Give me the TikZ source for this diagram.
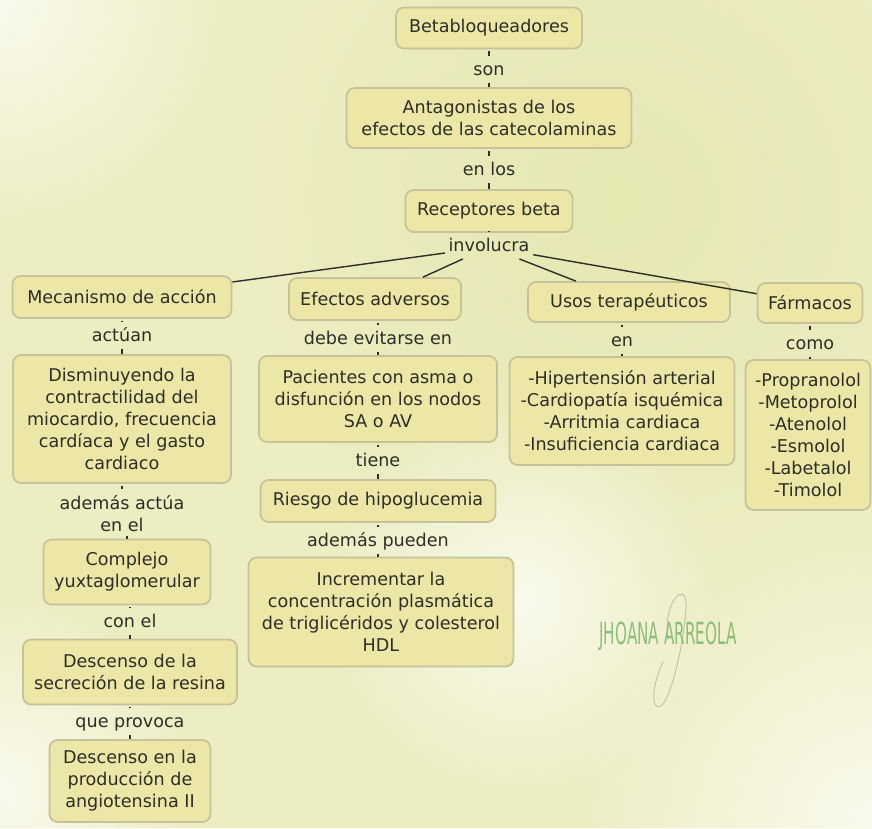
\documentclass[tikz,border=0pt]{standalone}
\usepackage{fontspec}
\setmainfont{DejaVu Sans}
\newfontfamily\signfont[FakeStretch=0.5]{DejaVu Sans}
\usetikzlibrary{positioning}
\usetikzlibrary{fadings}

\definecolor{bgcol}{HTML}{EDEDC2}
\definecolor{bglight}{HTML}{FAFAEE}
\definecolor{bgdeep}{HTML}{E6E8B2}
\definecolor{boxfill}{HTML}{ECE7A6}
\definecolor{boxline}{HTML}{C6C29A}
\definecolor{inkcol}{HTML}{2E2E26}
\definecolor{signcol}{HTML}{8CBE78}
\definecolor{loopcol}{HTML}{BFC4A4}

\tikzfading[name=softspot, inner color=transparent!0, outer color=transparent!100]

\tikzset{
  concept/.style={draw=boxline, line width=1.5pt, fill=boxfill, rounded corners=7pt,
    align=center, text=inkcol, inner sep=2pt, font=\fontsize{15}{18.8}\selectfont},
  wordbase/.style={align=center, text=inkcol, inner xsep=3pt, inner ysep=3pt,
    font=\fontsize{15}{18.8}\selectfont},
  linkword/.style={wordbase, text height=11pt, text depth=3pt},
  linkup/.style={draw=inkcol, line width=1pt, shorten <=1.5pt, shorten >=3pt},
  linkdown/.style={draw=inkcol, line width=1pt},
  branch/.style={draw=inkcol, line width=1.2pt}
}

\begin{document}
\begin{tikzpicture}[x=0.03cm,y=-0.03cm,on grid]
   \useasboundingbox (0,0) rectangle (872,828);
   % fondo
   \fill[bgcol] (0,0) rectangle (872,828);
   \fill[bgdeep, path fading=softspot] (620,200) circle (380);
   \fill[bglight, path fading=softspot] (0,0) circle (230);
   \fill[bglight, path fading=softspot] (872,828) circle (300);
   \fill[bglight, path fading=softspot] (0,790) circle (200);
   \fill[bglight, path fading=softspot] (520,600) circle (200);

   % columna central
   \node[concept, minimum width=5.58cm, minimum height=1.23cm] (beta) at (489,28) {Betabloqueadores};
   \node[linkword] (son) [below=1.29cm of beta] {son};
   \node[concept, minimum width=8.55cm, minimum height=1.8cm] (antag) [below=1.41cm of son]
     {Antagonistas de los\\efectos de las catecolaminas};
   \node[linkword] (enlos) [below=1.59cm of antag] {en los};
   \node[concept, minimum width=5.01cm, minimum height=1.26cm] (recep) [below=1.2cm of enlos] {Receptores beta};
   \node[linkword] (invol) [below=1.08cm of recep] {involucra};

   % cuatro ramas
   \node[concept, minimum width=6.57cm, minimum height=1.26cm] (mecan) [below left=1.5cm and 11.01cm of invol] {Mecanismo de acción};
   \node[concept, minimum width=5.16cm, minimum height=1.26cm] (adver) [below left=1.56cm and 3.42cm of invol] {Efectos adversos};
   \node[concept, minimum width=6.06cm, minimum height=1.2cm] (usos) [below right=1.65cm and 4.2cm of invol] {Usos terapéuticos};
   \node[concept, minimum width=3.15cm, minimum height=1.2cm] (farma) [below right=1.68cm and 9.63cm of invol] {Fármacos};

   % mecanismo de accion
   \node[linkword] (actuan) [below=1.2cm of mecan] {actúan};
   \node[concept, minimum width=6.54cm, minimum height=3.84cm] (dismi) [below=2.46cm of actuan]
     {Disminuyendo la\\contractilidad del\\miocardio, frecuencia\\cardíaca y el gasto\\cardiaco};
   \node[wordbase] (ademas) [below=2.85cm of dismi] {además actúa\\en el};
   \node[concept, minimum width=5.01cm, minimum height=1.95cm] (yuxta) [below right=1.74cm and 0.15cm of ademas]
     {Complejo\\yuxtaglomerular};
   \node[linkword] (conel) [below right=1.53cm and 0.09cm of yuxta] {con el};
   \node[concept, minimum width=6.42cm, minimum height=1.95cm] (resina) [below=1.47cm of conel]
     {Descenso de la\\secreción de la resina};
   \node[linkword] (provoca) [below=1.53cm of resina] {que provoca};
   \node[concept, minimum width=4.83cm, minimum height=2.46cm] (angio) [below=1.74cm of provoca]
     {Descenso en la\\producción de\\angiotensina II};

   % efectos adversos
   \node[linkword] (evitar) [below right=1.23cm and 0.09cm of adver] {debe evitarse en};
   \node[concept, minimum width=7.14cm, minimum height=2.58cm] (pacien) [below=1.77cm of evitar]
     {Pacientes con asma o\\disfunción en los nodos\\SA o AV};
   \node[linkword] (tiene) [below=1.89cm of pacien] {tiene};
   \node[concept, minimum width=7.05cm, minimum height=1.26cm] (riesgo) [below=1.17cm of tiene] {Riesgo de hipoglucemia};
   \node[linkword] (pueden) [below=1.23cm of riesgo] {además pueden};
   \node[concept, minimum width=7.95cm, minimum height=3.27cm] (trigli) [below right=2.1cm and 0.09cm of pueden]
     {Incrementar la\\concentración plasmática\\de triglicéridos y colesterol\\HDL};

   % usos terapeuticos
   \node[linkword] (enusos) [below left=1.2cm and 0.21cm of usos] {en};
   \node[concept, minimum width=6.75cm, minimum height=3.24cm] (usolist) [below=2.07cm of enusos]
     {-Hipertensión arterial\\-Cardiopatía isquémica\\-Arritmia cardiaca\\-Insuficiencia cardiaca};

   % farmacos
   \node[linkword] (como) [below=1.26cm of farma] {como};
   \node[concept, minimum width=3.75cm, minimum height=4.5cm] (farlist) [below left=2.7cm and 0.06cm of como]
     {-Propranolol\\-Metoprolol\\-Atenolol\\-Esmolol\\-Labetalol\\-Timolol};

   % firma
   \draw[loopcol, line width=0.8pt] (668,640) .. controls (662,600) and (688,578) .. (686,608)
     .. controls (683,650) and (670,700) .. (661,706) .. controls (652,711) and (650,690) .. (663,662);
   \node[text=signcol, font=\signfont\fontsize{26}{26}\selectfont] (firma) at (668,636) {JHOANA ARREOLA};

   % conectores
   \path (beta) edge[linkup] (son) (son) edge[linkdown] (antag)
         (antag) edge[linkup] (enlos) (enlos) edge[linkdown] (recep)
         (recep) edge[linkup] (invol);
   \path[branch] (invol) edge (mecan) (invol) edge (adver)
                 (invol) edge (usos) (invol) edge (farma);
   \path (mecan) edge[linkup] (actuan) (actuan) edge[linkdown] (dismi)
         (dismi) edge[linkup] (ademas)
         (yuxta.north |- ademas.south) edge[linkdown] (yuxta.north)
         (conel.north |- yuxta.south) edge[linkup] (conel.north)
         (conel) edge[linkdown] (resina)
         (resina) edge[linkup] (provoca) (provoca) edge[linkdown] (angio);
   \path (evitar.north |- adver.south) edge[linkup] (evitar.north)
         (evitar) edge[linkdown] (pacien)
         (pacien) edge[linkup] (tiene) (tiene) edge[linkdown] (riesgo)
         (riesgo) edge[linkup] (pueden)
         (pueden.south) edge[linkdown] (pueden.south |- trigli.north);
   \path (enusos.north |- usos.south) edge[linkup] (enusos.north)
         (enusos) edge[linkdown] (usolist);
   \path (farma) edge[linkup] (como)
         (como.south) edge[linkdown] (como.south |- farlist.north);
\end{tikzpicture}
\end{document}
